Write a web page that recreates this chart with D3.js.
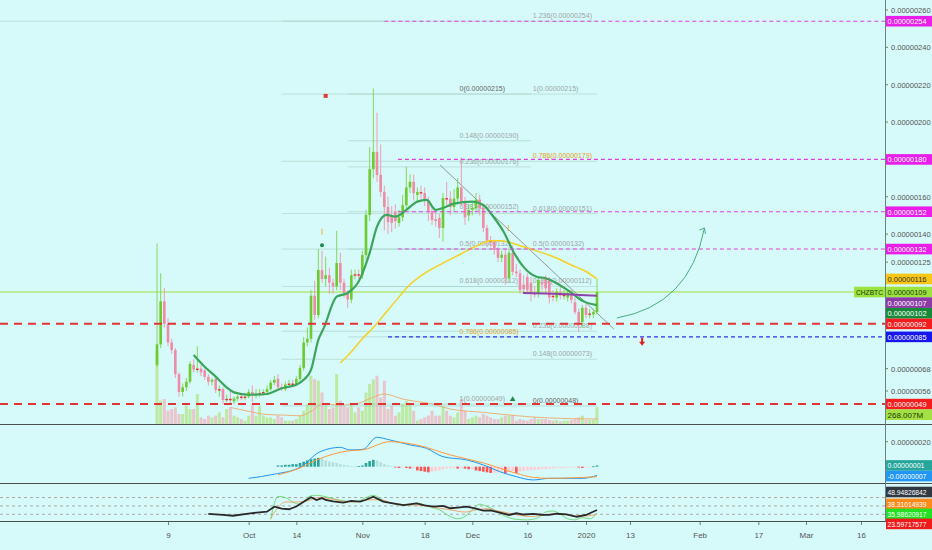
<!DOCTYPE html>
<html>
<head>
<meta charset="utf-8">
<script src="https://cdn.jsdelivr.net/npm/d3@7"></script>
<style>
  body { margin: 0; background: #d6f9f9; }
  svg { display: block; font-family: "Liberation Sans", Arial, sans-serif; }
</style>
</head>
<body>
<div id="chart"></div>
<script>
// ---- data (prices in 1e-8 BTC) ----
var startDay = new Date(2019, 8, 6);

// one row per day: open, high, low, close
var ohlc = [
  [70,135,69,81],[81,119,79,104],[104,111,90,92],[92,95,80,82],[82,84,76,78],
  [78,79,63,65],[65,66,53,55.5],[55.5,60,53,58],[58,63,56,61],[61,72,60,70.5],
  [70,73,66,67.5],[67.5,80,66,68],[68,70,64,66],[67,68,62,63.6],[63.6,65,59,61],
  [61,63,59,62],[62.5,64,55,56.6],[56.6,59,53,57],[57,58,49,51.2],[51.5,54,50,51.8],
  [51.8,56,49.5,51.5],[50.5,53,49,52],[52,54,50.5,53],[53,55,51,52.5],[52.5,55,51,53],
  [53,57,52,55.5],[55.5,59,50,54],[54,57,52,54.5],[54.5,57,53,55],[55,57,53.5,55.5],
  [55.5,59,54,57],[57,62,56,60.5],[60.5,64,59,62],[62.5,65,57,58],[58,60,56,57],
  [57,61,56,59.5],[59.5,62,58,60],[60,62,58.5,59.5],[59.5,64,59,62.5],[62.5,70,61,68.4],
  [68.4,85,67,82],[82,90,80,84],[84,110,82,107],[107,115,94,96.7],[96.7,132,95,120.8],
  [120.8,131,114,116],[116,128,112,118],[118,122,108,114],[114,116,108,112],[112,141.7,110,124.5],
  [124.5,130,110,114],[114,116,106,108.5],[108.5,110,100.5,105],[105,121,103,118],[118,121,116,118.5],
  [118.5,121,116,118],[118,131,116,128.8],[128.8,153,126,150.3],[150.3,186.6,147,174.8],[174.8,218,170,184],
  [184,205,168,171.7],[171.7,188,160,162.6],[162.6,166,142,154.5],[154.5,160,140,146.5],[150,155,141,146],
  [152,156,143,147],[146,153,144,149],[149,161,147,155.5],[155.5,176,153,165],[165,172,162,168],
  [168,172,158,162],[161,165,157,162.5],[162.5,166,159,162],[162,165,155,158.3],[158.3,160,147,152.4],
  [152.4,155,145,147.6],[148,152,144,147],[148.7,151,138,143.3],[143.3,162,136,159.3],[159.3,168,155,159],
  [159,163,150,154.5],[154.5,164,152,159],[159,170,156,165],[165,181,155,157],[157,160,145,149],
  [150,156,147,153],[153,157,150,154],[154,162,152,158.5],[158.5,161,150,154],[154,156,141,143.3],
  [143.3,145,133,136.5],[136.5,139,133,136],[136,137,129,131.6],[131.6,133,125,127.3],[127.3,131,125,129],
  [129,132,113,116.5],[116.5,132,114,130],[130,134,118,119.8],[120,124,117,119],[119,121,108,110],
  [113,118,108,110.5],[117,119,108,110],[114,117,104,108.5],[108.5,112,106,108],[108.5,117,106,115.5],
  [114,117,110,113],[116,118,108,111],[115,117,103,106],[107,110,104,106.5],[106,111,104,109],
  [109,112,105,107],[107,110,105,107.5],[106,110,104,108.5],[108,110,103,104.8],[103.5,106,97,98.2],
  [98.2,100,87.6,92.6],[93,102,90,100.5],[100.5,103,95,96.7],[97,100,95,97.5],[97,100,95,98.3],
  [98.3,116,97,109]
];

// volume, millions
var volume = [
  1150,368,395,210,237,263,158,158,290,237,
  237,474,105,79,132,105,132,184,105,237,
  263,132,105,79,53,132,316,132,290,132,
  105,105,79,132,105,53,53,53,79,132,
  210,316,763,711,684,500,290,237,263,790,
  368,290,263,316,184,263,210,500,632,705,
  763,421,684,237,290,132,184,316,368,316,
  210,53,79,105,132,210,132,132,290,210,
  132,105,184,395,210,79,105,132,105,158,
  132,105,79,79,105,132,132,132,53,79,
  63,53,79,105,79,79,79,63,53,63,
  42,53,53,63,79,105,132,63,63,63,
  268
];

// indicator lines: [day index, value]
var fastMa = [[10,75.3],[13,69],[16,63.7],[19,58],[21,55.3],[25,54],[30,54.4],[34,57.5],[38,59.3],
  [40,62],[42,67.3],[44,83.4],[45.5,89.8],[49,106.5],[52,108.5],[55,114.6],[58,130],[60,144],
  [62.6,150.3],[65,149.4],[68,153],[71,157.4],[73.5,158.3],[76,153],[78,154],[81,156.3],[86,157.4],
  [89,155.6],[91.7,149.4],[94.5,141.4],[97.2,130.6],[99.9,122.6],[103.5,117.2],[106,116.4],
  [109,113.7],[112.6,109.2],[116.3,104],[120,102]];
var slowMa = [[50,71],[53,77],[56,84],[59,90],[62,97],[65,104],[69,113],[73,119],[78,124.5],
  [83,129.5],[87,133.5],[91,136.5],[94,136.5],[98,134.5],[102,132],[108,128],[113,123.5],[117,120],[120,116]];
var vwapLine = [[99.8,108.5],[110,108],[120,107]];
var volMa = [[20,263],[25,200],[30,150],[35,140],[39,130],[42,200],[45,316],[50,300],[55,330],
  [58,400],[62,474],[67,395],[75,316],[80,237],[89,184],[98,132],[107,95],[120,79]];

var macdLine = [[25,-9.3],[32,-6],[39,-0.5],[44.5,12],[50,15.5],[52.6,13.4],[56.2,13.9],[59.9,23.5],
  [63.5,21.4],[69,17.4],[73.5,14.7],[78,8],[84.5,5.4],[89,1.4],[93.5,-4],[98,-8],[102.6,-10.6],
  [107,-9.3],[116,-9.3],[120,-7]];
var signalLine = [[33,-6.6],[39,-1],[43.5,5.4],[52.6,12.8],[56,13.4],[63.5,20],[70.8,17.4],
  [80,9.4],[89,3],[98,-5.3],[102.5,-8.5],[107,-9.3],[120,-8]];
var histStart = 33;
var macdHist = [
  1,1,1.5,1.5,2,2,
  3,4,5,6,6.5,7,6.5,
  5,4,3.5,3,2,1.5,
  1,0.5,0.3,0.5,1,
  3,4.5,5.5,5,3.5,
  2,1,0.5,
  -0.5,-1,-0.5,-1,-1.5,-1,
  -3,-3.5,-4,-4.5,-4,-3.5,-3,
  -2,-1.5,-1.5,
  -1,-1.5,-1,-1.5,-2,-2,
  -3,-3.5,-4,-4.5,-5,-5,-4.5,-4,-5.5,
  -4,-3.5,-5,-4,
  -3.5,-3,-3,-2.5,-2.5,-2,-2,-1.5,-1.5,-1,-1,-1,
  -0.5,-0.5,-0.3,-0.5,-1,-0.5,-0.3,0.3,
  1
];

var oscMain = [[14,29.3],[18,28.5],[20.7,27.7],[25.4,29.9],[30,31.3],[32,35.8],[34,34],[36,33.5],
  [38,36],[40,40.3],[42,44.2],[43.5,41.8],[45,43.5],[46,41.8],[48,40.5],[50.8,39.4],[53,41],
  [55.4,40.3],[57,42],[59,44.7],[61.7,40.3],[64,39],[67.2,37.3],[70.8,38.8],[73,37],[75.4,35.8],
  [78,36.5],[80,34.4],[82,35],[84.5,35.8],[87,34],[89,32.2],[91,32.5],[93.5,30.4],[96,28.4],
  [98,29.9],[100,28.8],[102.6,29.3],[105,28.6],[107,28.4],[109,29.5],[111.7,29],[114.5,26.8],
  [117,28.4],[120,32.8]];
var oscFast = [[31,24.5],[33,45],[35,44],[37,40],[39,38],[41,44],[43,46],[45,45.5],[48,43],[51,41],
  [54,40],[57,44],[59,46],[62,41],[65,38],[68,37],[71,39],[74,36],[77,33],[80,27],[82,25],[84,27],
  [86,33],[88,38],[90,36],[92,33],[94,29],[96,26],[98,24.5],[101,24],[104,26],[106,31],[108,32],
  [110,29],[112,25],[114,24],[116,26],[118,25],[120,30]];
var oscSlow = [[31,25],[33,35],[35,40],[38,40],[41,41],[44,44],[47,43],[50,41],[54,40],[58,42],
  [61,42],[64,39],[68,37.5],[72,37],[76,35],[80,33],[84,31],[87,33],[90,34],[93,32],[96,30],
  [99,28],[102,27],[105,28],[108,29.5],[111,29],[114,27.5],[117,27.5],[120,29]];
var oscLevels = [44, 36.5, 29];

// fibonacci drawings
var fibALevels = ["0","0.148","0.236","0.382","0.5","0.618","0.786","1"];
var fibAPrices = [215,190,176,152,132,112,85,49];
var fibBLevels = ["1.236","1","0.786","0.618","0.5","0.382","0.236","0.148","0"];
var fibBPrices = [254,215,179,151,132,112,88,73,48];

var targetLevels = [254,180,152,132];
var supportLevels = [92,49];
var blueLevel = 85;
var lastPrice = 109;

var priceTicks = [260,240,220,200,160,140,125,68,56];
var macdTicks = [20];
var timeTickDates = ["2019-09-09","2019-10-01","2019-10-14","2019-11-01","2019-11-18","2019-12-01",
  "2019-12-16","2020-01-01","2020-01-13","2020-02-01","2020-02-17","2020-03-01","2020-03-16"];
var timeTickLabels = ["9","Oct","14","Nov","18","Dec","16","2020","13","Feb","17","Mar","16"];

var mainTagValues = [254,180,152,132,116,109,107,102,92,85,49];
var volTag = 268.007;
var macdTagValues = [1,-7];
var oscTagValues = [48.94826842,38.31014939,35.98620917,23.59717577];

// ---- layout ----
var W = 932, H = 550, AX = 885;
var mainBottom = 424, macdBottom = 483, oscBottom = 521;
var parse = d3.timeParse("%Y-%m-%d");

var svg = d3.select("#chart").append("svg").attr("width", W).attr("height", H);
svg.append("rect").attr("width", W).attr("height", H).attr("fill", "#d6f9f9");

var x = d3.scaleTime().domain([parse("2019-09-09"), parse("2020-03-16")]).range([168, 861]);
var xi = function(i) { return x(new Date(+startDay + i * 864e5)); };
var y = d3.scaleLinear().domain([49, 260]).range([404.1, 10]);
var yVol = d3.scaleLinear().domain([0, 1250]).range([mainBottom, 345]);
var yMacd = d3.scaleLinear().domain([-10, 20]).range([479.2, 441.7]);
var yOsc = d3.scaleLinear().domain([23, 57]).range([521, 483]);

var defs = svg.append("defs");
function clip(id, y0, y1) {
  defs.append("clipPath").attr("id", id).append("rect")
    .attr("x", 0).attr("y", y0).attr("width", AX).attr("height", y1 - y0);
}
clip("cMain", 0, mainBottom);
clip("cMacd", mainBottom, macdBottom);
clip("cOsc", macdBottom, oscBottom);

var main = svg.append("g").attr("clip-path", "url(#cMain)");
var macdG = svg.append("g").attr("clip-path", "url(#cMacd)");
var oscG = svg.append("g").attr("clip-path", "url(#cOsc)");

var up = function(d) { return d[3] >= d[0]; };

// volume
main.selectAll(".vol").data(volume).enter().append("rect")
  .attr("x", function(d, i) { return xi(i) - 1.5; })
  .attr("width", 3)
  .attr("y", function(d) { return yVol(d); })
  .attr("height", function(d) { return mainBottom - yVol(d); })
  .attr("fill", function(d, i) { return up(ohlc[i]) ? "#bde9a3" : "#e8c6cc"; });

function pathFor(scaleY) {
  return d3.line().x(function(d) { return xi(d[0]); }).y(function(d) { return scaleY(d[1]); })
    .curve(d3.curveMonotoneX);
}
main.append("path").attr("d", pathFor(yVol)(volMa))
  .attr("fill", "none").attr("stroke", "#f0a86a").attr("stroke-width", 0.9);

// fib retracements (faint)
function drawFib(levels, prices, i0, i1, iText, yShift) {
  prices.forEach(function(p, k) {
    main.append("line").attr("x1", xi(i0)).attr("x2", xi(i1)).attr("y1", y(p)).attr("y2", y(p))
      .attr("stroke", "#9cc8b8").attr("stroke-width", 0.8).attr("opacity", 0.6);
    var lab = levels[k] + "(" + (p * 1e-8).toFixed(8) + ")";
    var col = levels[k] === "0.786" ? "#e8a020" : (levels[k] === "0" ? "#666" : "#9aa8a8");
    main.append("text").attr("x", xi(iText)).attr("y", y(p) - yShift)
      .attr("font-size", 7).attr("fill", col).text(lab);
  });
}
drawFib(fibALevels, fibAPrices, 52, 102, 82.5, 3);
drawFib(fibBLevels, fibBPrices, 34, 120, 102.5, 3);

// last price line
main.append("line").attr("x1", 0).attr("x2", AX).attr("y1", y(lastPrice)).attr("y2", y(lastPrice))
  .attr("stroke", "#b5e87c").attr("stroke-width", 1.5);

// trend line
var trend = [[77.2,177],[124.6,89.2]];
main.append("line").attr("x1", xi(trend[0][0])).attr("y1", y(trend[0][1]))
  .attr("x2", xi(trend[1][0])).attr("y2", y(trend[1][1]))
  .attr("stroke", "#808080").attr("stroke-width", 0.8);

// candles
var cg = main.selectAll(".candle").data(ohlc).enter().append("g");
cg.append("line")
  .attr("x1", function(d, i) { return xi(i); }).attr("x2", function(d, i) { return xi(i); })
  .attr("y1", function(d) { return y(d[1]); }).attr("y2", function(d) { return y(d[2]); })
  .attr("stroke", function(d) { return up(d) ? "#7fd44a" : "#f294ad"; }).attr("stroke-width", 0.9);
cg.append("rect")
  .attr("x", function(d, i) { return xi(i) - 1.3; }).attr("width", 2.6)
  .attr("y", function(d) { return y(Math.max(d[0], d[3])); })
  .attr("height", function(d) { return Math.max(1.4, Math.abs(y(d[0]) - y(d[3]))); })
  .attr("fill", function(d) {
    if (Math.abs(d[3] - d[0]) < 0.8) return "#e8302c";
    return up(d) ? "#6ccb2e" : "#f08aa6";
  });

// moving averages
main.append("path").attr("d", pathFor(y)(slowMa)).attr("fill", "none")
  .attr("stroke", "#f6d11e").attr("stroke-width", 1.5);
main.append("path").attr("d", pathFor(y)(fastMa)).attr("fill", "none")
  .attr("stroke", "#3ba55c").attr("stroke-width", 2.2);
main.append("path").attr("d", pathFor(y)(vwapLine)).attr("fill", "none")
  .attr("stroke", "#8e44ad").attr("stroke-width", 2);

// horizontal levels
targetLevels.forEach(function(p, k) {
  main.append("line").attr("x1", xi(k === 0 ? 62 : 65.7)).attr("x2", AX)
    .attr("y1", y(p)).attr("y2", y(p))
    .attr("stroke", "#e040e0").attr("stroke-width", 1.1).attr("stroke-dasharray", "4,3");
});
main.append("line").attr("x1", 0).attr("x2", xi(62)).attr("y1", y(254)).attr("y2", y(254))
  .attr("stroke", "#9cc8b8").attr("stroke-width", 0.8).attr("opacity", 0.6);
main.append("line").attr("x1", xi(63)).attr("x2", AX).attr("y1", y(blueLevel)).attr("y2", y(blueLevel))
  .attr("stroke", "#3232e6").attr("stroke-width", 1.1).attr("stroke-dasharray", "4,3");
supportLevels.forEach(function(p) {
  main.append("line").attr("x1", 0).attr("x2", AX).attr("y1", y(p)).attr("y2", y(p))
    .attr("stroke", "#e03535").attr("stroke-width", 2).attr("stroke-dasharray", "8,6");
});

// small markers
main.append("rect").attr("x", xi(46) - 2).attr("y", y(214) - 2).attr("width", 4).attr("height", 4)
  .attr("fill", "#e53935");
main.append("circle").attr("cx", xi(45)).attr("cy", y(134)).attr("r", 2).attr("fill", "#1f8a44");
main.append("path").attr("d", d3.symbol().type(d3.symbolTriangle).size(14)())
  .attr("transform", "translate(" + xi(97) + "," + y(51.5) + ")").attr("fill", "#1f8a44");
[[45,141.3],[95.8,143.2]].forEach(function(m) {
  main.append("line").attr("x1", xi(m[0])).attr("x2", xi(m[0])).attr("y1", y(m[1]) - 3).attr("y2", y(m[1]) + 3)
    .attr("stroke", "#f0b040").attr("stroke-width", 1);
});

// projection arrow
var arc = [[125.4,95.1],[145.3,102],[149.3,143.3]];
var ax0 = xi(arc[0][0]), ay0 = y(arc[0][1]), axc = xi(arc[1][0]), ayc = y(arc[1][1]),
    ax1 = xi(arc[2][0]), ay1 = y(arc[2][1]);
main.append("path").attr("d", "M" + ax0 + "," + ay0 + " Q" + axc + "," + ayc + " " + ax1 + "," + ay1)
  .attr("fill", "none").attr("stroke", "#45b07c").attr("stroke-width", 1);
main.append("path").attr("d", "M" + (ax1 - 5) + "," + (ay1 + 2) + " L" + ax1 + "," + ay1 + " L" + (ax1 + 1) + "," + (ay1 + 6))
  .attr("fill", "none").attr("stroke", "#45b07c").attr("stroke-width", 1);
// down arrow
var da = [132.3, 81.8];
var dx = xi(da[0]), dy = y(da[1]);
main.append("path").attr("d", "M" + (dx - 1) + "," + (dy - 5) + " h2 v4 h2 l-3,4 l-3,-4 h2 z")
  .attr("fill", "#e02020");

// MACD pane
macdG.selectAll(".hist").data(macdHist).enter().append("rect")
  .attr("x", function(d, k) { return xi(histStart + k) - 1.3; }).attr("width", 2.6)
  .attr("y", function(d) { return yMacd(Math.max(0, d)); })
  .attr("height", function(d) { return Math.max(0.8, Math.abs(yMacd(d) - yMacd(0))); })
  .attr("fill", function(d, k) {
    var prev = k > 0 ? macdHist[k - 1] : 0;
    if (d >= 0) return d >= prev ? "#26a69a" : "#b2dfdb";
    return d < prev ? "#ff5252" : "#ffcdd2";
  });
macdG.append("path").attr("d", pathFor(yMacd)(macdLine)).attr("fill", "none")
  .attr("stroke", "#2196f3").attr("stroke-width", 1);
macdG.append("path").attr("d", pathFor(yMacd)(signalLine)).attr("fill", "none")
  .attr("stroke", "#ff9a3c").attr("stroke-width", 1);

// oscillator pane
oscLevels.forEach(function(v) {
  oscG.append("line").attr("x1", 0).attr("x2", AX).attr("y1", yOsc(v)).attr("y2", yOsc(v))
    .attr("stroke", "#a89090").attr("stroke-width", 0.8).attr("stroke-dasharray", "3,3");
});
oscG.append("path").attr("d", pathFor(yOsc)(oscFast)).attr("fill", "none")
  .attr("stroke", "#5fd35f").attr("stroke-width", 0.8);
oscG.append("path").attr("d", pathFor(yOsc)(oscSlow)).attr("fill", "none")
  .attr("stroke", "#f0a060").attr("stroke-width", 0.9);
oscG.append("path").attr("d", d3.line().x(function(d) { return xi(d[0]); }).y(function(d) { return yOsc(d[1]); })(oscMain))
  .attr("fill", "none").attr("stroke", "#2a2a2a").attr("stroke-width", 1.8);

// pane separators and axis line
[mainBottom, macdBottom, oscBottom].forEach(function(v) {
  svg.append("line").attr("x1", 0).attr("x2", W).attr("y1", v + 0.5).attr("y2", v + 0.5)
    .attr("stroke", "#4a4f4f").attr("stroke-width", 1);
});
svg.append("line").attr("x1", AX + 0.5).attr("x2", AX + 0.5).attr("y1", 0).attr("y2", oscBottom)
  .attr("stroke", "#6f8080").attr("stroke-width", 1);

// price ticks
function tick(v, yy, txt) {
  svg.append("line").attr("x1", AX).attr("x2", AX + 3).attr("y1", yy).attr("y2", yy).attr("stroke", "#6f8080");
  svg.append("text").attr("x", AX + 6).attr("y", yy + 3).attr("font-size", 7.5).attr("fill", "#555").text(txt);
}
priceTicks.forEach(function(v) { tick(v, y(v), (v * 1e-8).toFixed(8)); });
macdTicks.forEach(function(v) { tick(v, yMacd(v), (v * 1e-8).toFixed(8)); });

// value tags
var tagStyle = {
  254: ["#e91ee9", "#fff"], 180: ["#e91ee9", "#fff"], 152: ["#e91ee9", "#fff"], 132: ["#e91ee9", "#fff"],
  116: ["#f7c616", "#333"], 109: ["#9be33f", "#1d3a0a"], 107: ["#8c3aa6", "#fff"], 102: ["#178a3a", "#fff"],
  92: ["#f41c1c", "#fff"], 85: ["#1616ee", "#fff"], 49: ["#f41c1c", "#fff"]
};
function fitText(sel, maxW) {
  var w = sel.node().getComputedTextLength();
  if (w > maxW) sel.attr("textLength", maxW).attr("lengthAdjust", "spacingAndGlyphs");
}
function drawTags(tags, gap) {
  tags.sort(function(a, b) { return a.y - b.y; });
  for (var k = 1; k < tags.length; k++) {
    if (tags[k].y < tags[k - 1].y + gap) tags[k].y = tags[k - 1].y + gap;
  }
  tags.forEach(function(t) {
    svg.append("rect").attr("x", AX + 1).attr("y", t.y - 5.3).attr("width", W - AX - 1).attr("height", 10.6)
      .attr("fill", t.bg);
    var tx = svg.append("text").attr("x", AX + 2.5).attr("y", t.y + 3).attr("font-size", t.fs || 8)
      .attr("fill", t.fg).text(t.txt);
    fitText(tx, W - AX - 8);
    if (t.side) {
      svg.append("rect").attr("x", AX - 31).attr("y", t.y - 5.3).attr("width", 31).attr("height", 10.6)
        .attr("fill", t.bg);
      var st = svg.append("text").attr("x", AX - 29).attr("y", t.y + 3).attr("font-size", 7)
        .attr("fill", t.fg).text(t.side);
      fitText(st, 27);
    }
  });
}
var mainTags = mainTagValues.map(function(v) {
  return { y: y(v), txt: (v * 1e-8).toFixed(8), bg: tagStyle[v][0], fg: tagStyle[v][1],
           side: v === lastPrice ? "CHZBTC" : null };
});
mainTags.push({ y: yVol(volTag), txt: volTag.toFixed(3) + "M", bg: "#a3e043", fg: "#1d3a0a" });
drawTags(mainTags, 10.6);

var macdCols = [["#26a69a", "#fff"], ["#2196f3", "#fff"]];
drawTags(macdTagValues.map(function(v, k) {
  return { y: yMacd(v), txt: (v * 1e-8).toFixed(8), bg: macdCols[k][0], fg: macdCols[k][1], fs: 7 };
}), 10.6);

var oscCols = [["#303841", "#fff"], ["#ff8a1c", "#fff"], ["#22e022", "#fff"], ["#f01a1a", "#fff"]];
drawTags(oscTagValues.map(function(v, k) {
  return { y: yOsc(v), txt: v.toFixed(8), bg: oscCols[k][0], fg: oscCols[k][1], fs: 7 };
}), 10);

// time axis
var xAxis = d3.axisBottom(x)
  .tickValues(timeTickDates.map(parse))
  .tickFormat(function(d, k) { return timeTickLabels[k]; })
  .tickSize(3);
var gx = svg.append("g").attr("transform", "translate(0," + (oscBottom + 1) + ")").call(xAxis);
gx.select(".domain").remove();
gx.selectAll("line").attr("stroke", "#6f8080");
gx.selectAll("text").attr("font-size", 8).attr("fill", "#555").attr("dy", "1.2em")
  .attr("font-family", "Liberation Sans, Arial, sans-serif");
</script>
</body>
</html>
